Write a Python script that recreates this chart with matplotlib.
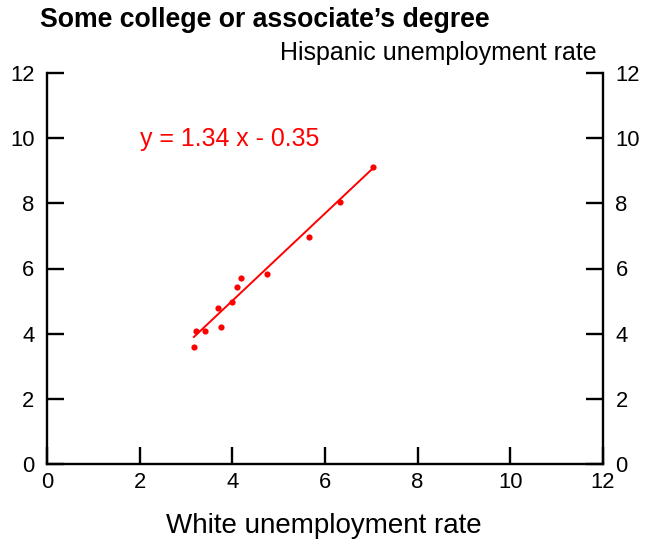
import matplotlib
matplotlib.use("Agg")
import matplotlib.pyplot as plt
import numpy as np

plt.rcParams['font.family'] = ['Liberation Sans', 'DejaVu Sans']

white = [7.03, 6.32, 5.66, 4.74, 4.19, 4.11, 3.99, 3.68, 3.76, 3.41, 3.22, 3.17]
hispanic = [9.11, 8.05, 6.96, 5.83, 5.70, 5.44, 4.97, 4.80, 4.21, 4.09, 4.07, 3.60]
slope = 1.34
intercept = -0.35
ticks = [0, 2, 4, 6, 8, 10, 12]

W, H = 647, 544
fig = plt.figure(figsize=(W/100, H/100), dpi=100)
ax = fig.add_axes([47/W, 1-464/H, (603-47)/W, (464-73)/H])

ax.scatter(white, hispanic, s=20, color='red', zorder=3, linewidths=0)
xs = np.array([min(white), max(white)])
ax.plot(xs, slope*xs + intercept, color='red', lw=1.4)

ax.set_xlim(0, 12)
ax.set_ylim(0, 12)
ax.set_xticks(ticks)
ax.set_yticks(ticks)
ax.spines['top'].set_visible(False)
for s in ['left', 'right', 'bottom']:
    ax.spines[s].set_linewidth(1.7)
ax.tick_params(axis='both', direction='in', length=12, width=1.7, labelsize=15.8)
ax.tick_params(axis='y', right=True, labelright=True, pad=9)
ax.tick_params(axis='x', pad=6)

ax.text(2.0, 9.76, f"y = {slope:.2f} x - {abs(intercept):.2f}", color='red',
        fontsize=17.9, va='baseline')
fig.text(40/W, 1-27/H, "Some college or associate\u2019s degree", fontsize=19.2,
         fontweight='bold', va='baseline', ha='left')
fig.text(597/W, 1-60/H, "Hispanic unemployment rate", fontsize=18,
         va='baseline', ha='right')
fig.text(324/W, 1-533/H, "White unemployment rate", fontsize=20,
         va='baseline', ha='center')

fig.savefig("out.png", dpi=100)
